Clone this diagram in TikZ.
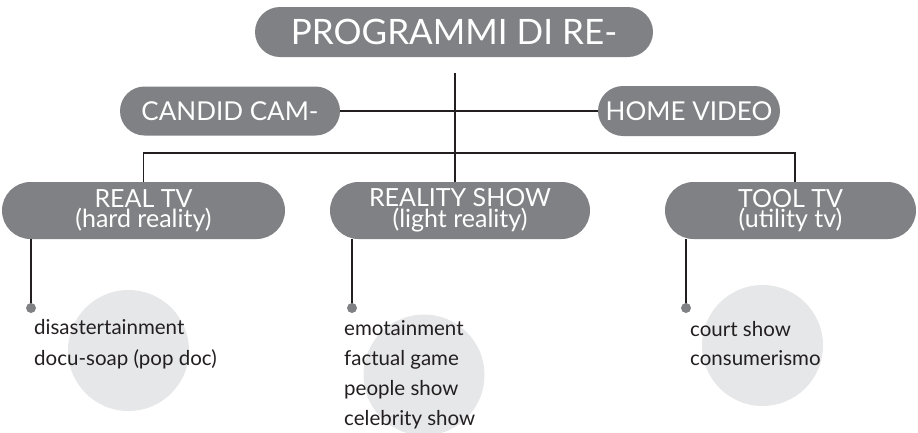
\documentclass[tikz,border=0pt]{standalone}
\usepackage{fontspec}
\setmainfont{Lato}
\usetikzlibrary{shapes.misc}
\definecolor{pillgray}{HTML}{808184}
\definecolor{blobgray}{HTML}{E6E7E8}
\definecolor{inkdark}{HTML}{231F20}
\tikzset{
  pill/.style={rounded rectangle, fill=pillgray, text=white, inner sep=0pt, align=center},
  link/.style={draw=inkdark, line width=1.8pt},
  blob/.style={circle, fill=blobgray, minimum size=121pt, inner sep=0pt},
  item/.style={anchor=base west, text=inkdark, inner sep=0pt, font=\fontsize{20.5}{20.5}\selectfont},
  tip/.style={fill=pillgray}
}
\begin{document}
\begin{tikzpicture}[x=1pt,y=-1pt]
\useasboundingbox (0,0) rectangle (918,432);

\node[blob] (blobA) at (128.5,350.5) {};
\node[blob] (blobB) at (424,375) {};
\node[blob] (blobC) at (762.5,345.5) {};

\node[pill, minimum width=398pt, minimum height=50pt, font=\fontsize{35}{35}\selectfont] (top) at (454,32) {PROGRAMMI DI RE-};
\node[pill, minimum width=220pt, minimum height=49pt, font=\fontsize{26}{26}\selectfont] (candid) at (230,111) {CANDID CAM-};
\node[pill, minimum width=182pt, minimum height=50pt, font=\fontsize{26}{26}\selectfont] (home) at (689,111) {HOME VIDEO};

\node[pill, minimum width=283pt, minimum height=57pt, font=\fontsize{25}{19}\selectfont] (real) at (143.5,210.5) {REAL TV\\(hard reality)};
\node[pill, minimum width=260pt, minimum height=57pt, font=\fontsize{25}{19}\selectfont] (reality) at (460,210.5) {REALITY SHOW\\(light reality)};
\node[pill, minimum width=251pt, minimum height=57pt, font=\fontsize{25}{19}\selectfont] (tool) at (790.5,210.5) {TOOL TV\\(utility tv)};

\coordinate (trunk) at (455,73);
\coordinate (bar) at (455,153);
\draw[link] (trunk) -- (trunk |- reality.north);
\draw[link] (candid.east) -- (home.west);
\draw[link] (real.north) |- (bar) -| ([xshift=4.5pt]tool.north);

\coordinate (dotA) at (31,308);
\coordinate (dotB) at (352,308);
\coordinate (dotC) at (686,308);
\foreach \d/\p in {dotA/real,dotB/reality,dotC/tool}
{
\draw[link] (\d |- \p.south) -- (\d);
\fill[tip] (\d) circle (5pt);
}

\foreach \t [count=\i] in {disastertainment,docu-soap (pop doc)}
  \node[item] (itemA\i) at (34,334+31*\i-31) {\t};
\foreach \t [count=\i] in {emotainment,factual game,people show,celebrity show}
  \node[item] (itemB\i) at (344,335+30*\i-30) {\t};
\foreach \t [count=\i] in {court show,consumerismo}
  \node[item] (itemC\i) at (690,336+29*\i-29) {\t};
\end{tikzpicture}
\end{document}
